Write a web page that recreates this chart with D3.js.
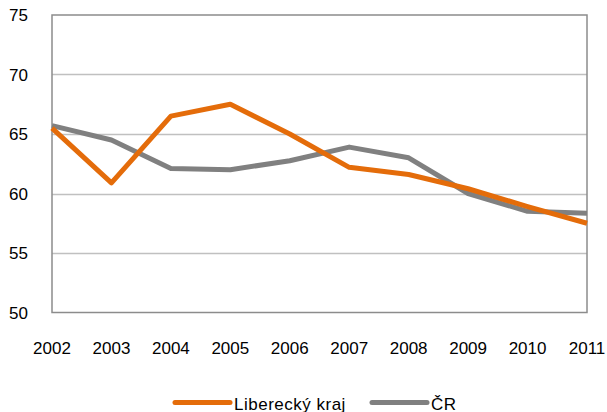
<!DOCTYPE html>
<html>
<head>
<meta charset="utf-8">
<script src="https://cdn.jsdelivr.net/npm/d3@7"></script>
<style>
  body { margin: 0; background: #fff; }
  text { font-family: "Liberation Sans", Arial, sans-serif; font-size: 17px; fill: #000; }
</style>
</head>
<body>
<script>
let width = 607;
let height = 412;

// data
let years = [2002, 2003, 2004, 2005, 2006, 2007, 2008, 2009, 2010, 2011];
let liberecky = [65.5, 60.9, 66.5, 67.5, 65.0, 62.2, 61.6, 60.4, 58.9, 57.5];
let cr = [65.7, 64.5, 62.1, 62.0, 62.75, 63.9, 63.0, 60.0, 58.5, 58.35];
let yTicks = [50, 55, 60, 65, 70, 75];
let seriesNames = ["Liberecký kraj", "ČR"];
let colors = ["#e46c0a", "#808080"];

let margin = {left: 52, right: 20, top: 15, bottom: 100};

let svg = d3.select("body").append("svg")
            .attr("width", width)
            .attr("height", height);

let x = d3.scalePoint()
          .domain(years)
          .range([margin.left, width - margin.right]);

let y = d3.scaleLinear()
          .domain([50, 75])
          .range([height - margin.bottom + 0.5, margin.top]);

// gridlines
svg.append("g")
   .selectAll("line")
   .data(yTicks.filter(d => d > 50 && d < 75))
   .enter().append("line")
   .attr("x1", margin.left)
   .attr("x2", width - margin.right)
   .attr("y1", d => Math.round(y(d)) + 0.5)
   .attr("y2", d => Math.round(y(d)) + 0.5)
   .attr("stroke", "#c0c0c0")
   .attr("stroke-width", 1.5);

// plot frame
svg.append("rect")
   .attr("x", margin.left)
   .attr("y", y(75))
   .attr("width", width - margin.right - margin.left)
   .attr("height", y(50) - y(75))
   .attr("fill", "none")
   .attr("stroke", "#8c8c8c")
   .attr("stroke-width", 1.5);

// y axis labels
svg.append("g")
   .selectAll("text")
   .data(yTicks)
   .enter().append("text")
   .attr("x", 28)
   .attr("y", d => y(d) + 6)
   .attr("text-anchor", "end")
   .text(d => d);

// x axis labels
svg.append("g")
   .selectAll("text")
   .data(years)
   .enter().append("text")
   .attr("x", d => x(d))
   .attr("y", 354)
   .attr("text-anchor", "middle")
   .text(d => d);

let line = d3.line()
             .x((d, i) => x(years[i]))
             .y(d => y(d));

// gray first, orange on top where they cross
[cr, liberecky].forEach(function(vals, k) {
  svg.append("path")
     .datum(vals)
     .attr("d", line)
     .attr("fill", "none")
     .attr("stroke", k == 0 ? colors[1] : colors[0])
     .attr("stroke-width", 5)
     .attr("stroke-linejoin", "round");
});

// legend
let legendX = [175, 372];
let legend = svg.append("g")
                .selectAll("g")
                .data(seriesNames)
                .enter().append("g");

legend.append("line")
      .attr("x1", (d, i) => legendX[i])
      .attr("x2", (d, i) => legendX[i] + 55)
      .attr("y1", 402.5)
      .attr("y2", 402.5)
      .attr("stroke", (d, i) => colors[i])
      .attr("stroke-width", 5)
      .attr("stroke-linecap", "round");

legend.append("text")
      .attr("x", (d, i) => legendX[i] + 59)
      .attr("y", 409.5)
      .attr("letter-spacing", 0.5)
      .text(d => d);
</script>
</body>
</html>
